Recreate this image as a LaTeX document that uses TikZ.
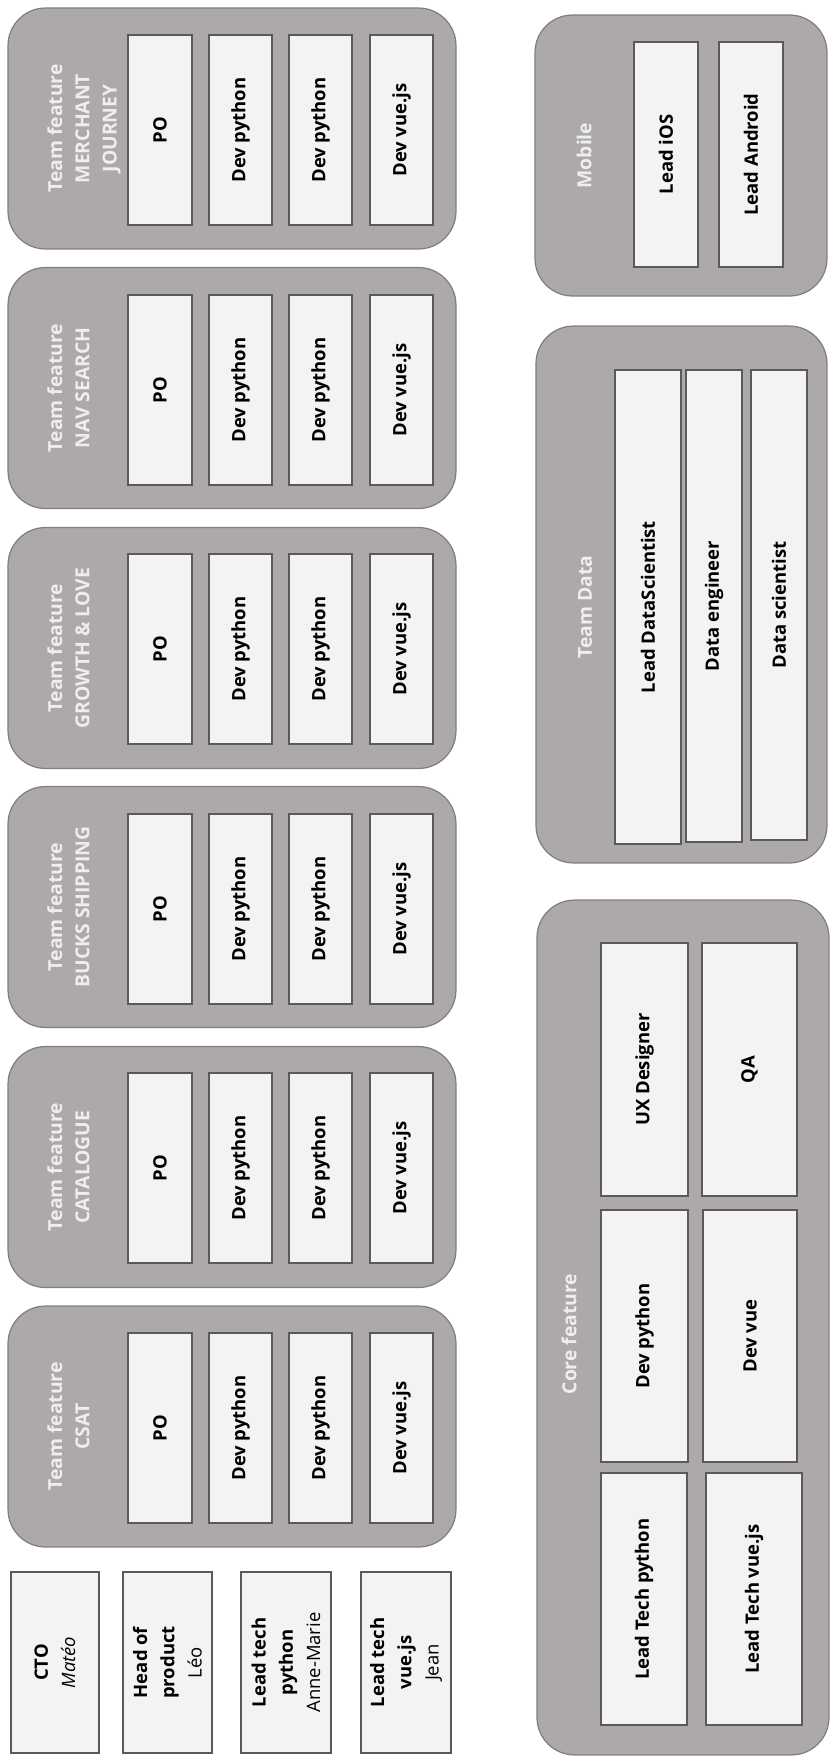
\documentclass[tikz,border=0pt]{standalone}
\usepackage{fontspec}
\setmainfont{Open Sans}
\usepackage{tikz}
\definecolor{teamgray}{RGB}{174, 169, 169}
\definecolor{teamedge}{RGB}{128, 126, 126}
\definecolor{rolefill}{RGB}{243, 243, 243}
\definecolor{roleedge}{RGB}{90, 90, 90}
\definecolor{titlegray}{RGB}{238, 238, 238}

\begin{document}
\begin{tikzpicture}[x=0.02cm, y=-0.02cm,
  team/.style={draw=teamedge, fill=teamgray, line width=0.7pt,
               rounded corners=0.75cm, rotate=90, inner sep=0pt},
  role/.style={draw=roleedge, fill=rolefill, line width=0.8pt, rotate=90,
               inner sep=0pt, align=center,
               font=\fontsize{10.5}{15.5}\selectfont\bfseries},
  ttl/.style={text=titlegray, rotate=90, anchor=north, inner sep=0pt,
              align=center, font=\fontsize{11}{15.5}\selectfont\bfseries}]
  \useasboundingbox (0,0) rectangle (830,1756);

  % feature teams
  \node[team, minimum width=4.82cm, minimum height=8.96cm] (merchant) at (232,128.5) {};
  \node[ttl] (merchantttl) at (47,128.5) {Team feature\\MERCHANT\\JOURNEY};
  \node[role, minimum width=3.8cm, minimum height=1.28cm] (merchantpo) at (160,130) {PO};
  \node[role, minimum width=3.8cm, minimum height=1.26cm] (merchantpya) at (240.5,130) {Dev python};
  \node[role, minimum width=3.8cm, minimum height=1.26cm] (merchantpyb) at (320.5,130) {Dev python};
  \node[role, minimum width=3.8cm, minimum height=1.26cm] (merchantvue) at (401.5,130) {Dev vue.js};

  \node[team, minimum width=4.82cm, minimum height=8.96cm] (nav) at (232,388) {};
  \node[ttl] (navttl) at (47,388) {Team feature\\NAV SEARCH};
  \node[role, minimum width=3.8cm, minimum height=1.28cm] (navpo) at (160,390) {PO};
  \node[role, minimum width=3.8cm, minimum height=1.26cm] (navpya) at (240.5,390) {Dev python};
  \node[role, minimum width=3.8cm, minimum height=1.26cm] (navpyb) at (320.5,390) {Dev python};
  \node[role, minimum width=3.8cm, minimum height=1.26cm] (navvue) at (401.5,390) {Dev vue.js};

  \node[team, minimum width=4.82cm, minimum height=8.96cm] (growth) at (232,648) {};
  \node[ttl] (growthttl) at (47,648) {Team feature\\GROWTH \& LOVE};
  \node[role, minimum width=3.8cm, minimum height=1.28cm] (growthpo) at (160,649) {PO};
  \node[role, minimum width=3.8cm, minimum height=1.26cm] (growthpya) at (240.5,649) {Dev python};
  \node[role, minimum width=3.8cm, minimum height=1.26cm] (growthpyb) at (320.5,649) {Dev python};
  \node[role, minimum width=3.8cm, minimum height=1.26cm] (growthvue) at (401.5,649) {Dev vue.js};

  \node[team, minimum width=4.82cm, minimum height=8.96cm] (bucks) at (232,907) {};
  \node[ttl] (bucksttl) at (47,907) {Team feature\\BUCKS SHIPPING};
  \node[role, minimum width=3.8cm, minimum height=1.28cm] (buckspo) at (160,909) {PO};
  \node[role, minimum width=3.8cm, minimum height=1.26cm] (buckspya) at (240.5,909) {Dev python};
  \node[role, minimum width=3.8cm, minimum height=1.26cm] (buckspyb) at (320.5,909) {Dev python};
  \node[role, minimum width=3.8cm, minimum height=1.26cm] (bucksvue) at (401.5,909) {Dev vue.js};

  \node[team, minimum width=4.82cm, minimum height=8.96cm] (catalogue) at (232,1167) {};
  \node[ttl] (cataloguettl) at (47,1167) {Team feature\\CATALOGUE};
  \node[role, minimum width=3.8cm, minimum height=1.28cm] (cataloguepo) at (160,1168) {PO};
  \node[role, minimum width=3.8cm, minimum height=1.26cm] (cataloguepya) at (240.5,1168) {Dev python};
  \node[role, minimum width=3.8cm, minimum height=1.26cm] (cataloguepyb) at (320.5,1168) {Dev python};
  \node[role, minimum width=3.8cm, minimum height=1.26cm] (cataloguevue) at (401.5,1168) {Dev vue.js};

  \node[team, minimum width=4.82cm, minimum height=8.96cm] (csat) at (232,1426.5) {};
  \node[ttl] (csatttl) at (47,1426.5) {Team feature\\CSAT};
  \node[role, minimum width=3.8cm, minimum height=1.28cm] (csatpo) at (160,1428) {PO};
  \node[role, minimum width=3.8cm, minimum height=1.26cm] (csatpya) at (240.5,1428) {Dev python};
  \node[role, minimum width=3.8cm, minimum height=1.26cm] (csatpyb) at (320.5,1428) {Dev python};
  \node[role, minimum width=3.8cm, minimum height=1.26cm] (csatvue) at (401.5,1428) {Dev vue.js};

  % management
  \node[role, minimum width=3.62cm, minimum height=1.76cm] (cto) at (55,1662.5) {CTO\\{\mdseries\itshape Matéo}};
  \node[role, minimum width=3.62cm, minimum height=1.78cm] (headprod) at (167.5,1662.5) {Head of\\product\\{\mdseries Léo}};
  \node[role, minimum width=3.62cm, minimum height=1.80cm] (leadpy) at (286,1662.5) {Lead tech\\python\\{\mdseries Anne-Marie}};
  \node[role, minimum width=3.62cm, minimum height=1.80cm] (leadvue) at (406,1662.5) {Lead tech\\vue.js\\{\mdseries Jean}};

  % mobile
  \node[team, minimum width=5.62cm, minimum height=5.84cm] (mobile) at (681,155.5) {};
  \node[ttl, anchor=center] (mobilettl) at (584,155.5) {Mobile};
  \node[role, minimum width=4.5cm, minimum height=1.28cm] (ios) at (666,154.5) {Lead iOS};
  \node[role, minimum width=4.5cm, minimum height=1.28cm] (android) at (751,154.5) {Lead Android};

  % data
  \node[team, minimum width=10.74cm, minimum height=5.82cm] (data) at (681.5,594.5) {};
  \node[ttl, anchor=center] (datattl) at (585,607) {Team Data};
  \node[role, minimum width=9.48cm, minimum height=1.32cm] (leadds) at (648,607) {Lead DataScientist};
  \node[role, minimum width=9.44cm, minimum height=1.12cm] (dataeng) at (714,606) {Data engineer};
  \node[role, minimum width=9.40cm, minimum height=1.12cm] (datasci) at (779,605) {Data scientist};

  % core
  \node[team, minimum width=17.1cm, minimum height=5.84cm] (core) at (683,1327.5) {};
  \node[ttl, anchor=center] (corettl) at (569,1334) {Core feature};
  \node[role, minimum width=5.06cm, minimum height=1.74cm] (ux) at (644.5,1069.5) {UX Designer};
  \node[role, minimum width=5.06cm, minimum height=1.90cm] (qa) at (749.5,1069.5) {QA};
  \node[role, minimum width=5.04cm, minimum height=1.74cm] (corepy) at (644.5,1336) {Dev python};
  \node[role, minimum width=5.04cm, minimum height=1.88cm] (corevue) at (750,1336) {Dev vue};
  \node[role, minimum width=5.04cm, minimum height=1.72cm] (coreleadpy) at (644,1599) {Lead Tech python};
  \node[role, minimum width=5.04cm, minimum height=1.92cm] (coreleadvue) at (754,1599) {Lead Tech vue.js};
\end{tikzpicture}
\end{document}
